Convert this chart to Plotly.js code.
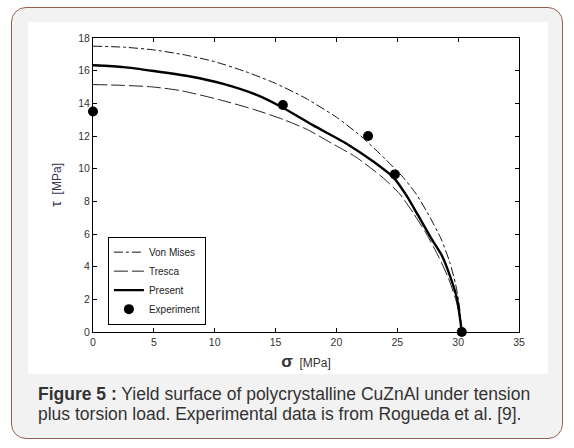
<!DOCTYPE html>
<html>
<head>
<meta charset="utf-8">
<script src="https://cdn.plot.ly/plotly-3.0.1.min.js"></script>
<style>
  body { margin: 0; width: 574px; height: 448px; background: #ffffff; position: relative; overflow: hidden;
         font-family: "Liberation Sans", Arial, sans-serif; }
  #card { position: absolute; left: 11px; top: 7px; width: 550px; height: 430px;
          border: 1.5px solid #9a5e50; border-radius: 15px; background: #f2f2f2; }
  #panel { position: absolute; left: 28px; top: 22px; width: 520px; height: 352px; background: #ffffff; }
  #chart { position: absolute; left: 0; top: 0; width: 574px; height: 448px; }
  #caption { position: absolute; left: 38px; top: 384px; width: 515px; font-size: 17.5px; line-height: 20px;
             color: #333333; white-space: nowrap; }
</style>
</head>
<body>
<div id="card"></div>
<div id="panel"></div>
<div id="chart"></div>
<div id="caption"><div><b>Figure 5 :</b><span> Yield surface of polycrystalline CuZnAl under tension</span></div><div>plus torsion load. Experimental data is from Rogueda et al. [9].</div></div>
<script>
// values (sigma, tau in MPa)
var sigma_vm = [0, 2.5, 5, 7.5, 10, 12.5, 15, 17.5, 20, 22, 24, 25.5, 26.6, 27.7, 28.6, 29.3, 29.8, 30.1, 30.3];
var tau_vm   = [17.5, 17.44, 17.27, 16.97, 16.55, 15.95, 15.22, 14.3, 13.15, 12.0, 10.6, 9.45, 8.4, 7.0, 5.7, 4.3, 2.9, 1.6, 0];

var sigma_tr = [0, 2.5, 4.8, 7.2, 10.5, 13.2, 15.6, 17.6, 19.6, 21.6, 23.75, 25.2, 26.3, 27.4, 28.4, 29.2, 29.8, 30.15, 30.3];
var tau_tr   = [15.15, 15.1, 15.01, 14.78, 14.2, 13.63, 13.02, 12.4, 11.56, 10.71, 9.49, 8.45, 7.3, 6.0, 4.6, 3.3, 2.0, 0.9, 0];

var sigma_pr = [0, 2.5, 5, 8, 10.7, 13.5, 15.6, 18.1, 20.9, 23.0, 24.7, 25.8, 26.7, 27.8, 28.65, 29.3, 29.9, 30.15, 30.3];
var tau_pr   = [16.33, 16.22, 15.98, 15.64, 15.19, 14.5, 13.73, 12.65, 11.5, 10.45, 9.45, 8.3, 7.15, 5.72, 4.7, 3.5, 2.06, 0.85, 0];

var sigma_exp = [0, 15.6, 22.6, 24.8, 30.3];
var tau_exp   = [13.5, 13.9, 12.0, 9.65, 0];

var traces = [
  { x: sigma_vm, y: tau_vm, name: 'Von Mises', type: 'scatter', mode: 'lines',
    line: { color: '#111111', width: 1, dash: 'dashdot', shape: 'spline', smoothing: 0.6 } },
  { x: sigma_tr, y: tau_tr, name: 'Tresca', type: 'scatter', mode: 'lines',
    line: { color: '#222222', width: 1, dash: '14px,4px', shape: 'spline', smoothing: 0.6 } },
  { x: sigma_pr, y: tau_pr, name: 'Present', type: 'scatter', mode: 'lines',
    line: { color: '#000000', width: 2.4, shape: 'spline', smoothing: 0.6 } },
  { x: sigma_exp, y: tau_exp, name: 'Experiment', type: 'scatter', mode: 'markers',
    marker: { color: '#000000', size: 10 }, cliponaxis: false }
];

var layout = {
  width: 574, height: 448,
  paper_bgcolor: 'rgba(0,0,0,0)',
  plot_bgcolor: 'rgba(0,0,0,0)',
  margin: { l: 93, r: 55, t: 38, b: 116 },
  font: { family: 'Liberation Sans, Arial, sans-serif', size: 10, color: '#333333' },
  showlegend: true,
  legend: { x: 0.035, y: 0.025, xanchor: 'left', yanchor: 'bottom', bgcolor: '#ffffff',
            bordercolor: '#000000', borderwidth: 1, font: { size: 10, color: '#222222' },
            tracegroupgap: 0, itemwidth: 30 },
  xaxis: { range: [0, 35], dtick: 5, showline: true, linecolor: '#000000', linewidth: 1, mirror: 'ticks',
           ticks: 'inside', ticklen: 4, tickcolor: '#000000', showgrid: false, zeroline: false,
           automargin: false, tickfont: { size: 10.5 },
           title: { text: '<b><span style="font-size:17px">σ</span></b>  [MPa]', standoff: 12,
                    font: { size: 12, color: '#333333' } } },
  yaxis: { range: [0, 18], dtick: 2, showline: true, linecolor: '#000000', linewidth: 1, mirror: 'ticks',
           ticks: 'inside', ticklen: 4, tickcolor: '#000000', showgrid: false, zeroline: false,
           automargin: false, tickfont: { size: 10.5 },
           title: { text: '<span style="font-size:15px">τ</span>  [MPa]', standoff: 14,
                    font: { size: 12, color: '#333355' } } }
};

Plotly.newPlot('chart', traces, layout, { displayModeBar: false, staticPlot: true });
</script>
</body>
</html>
